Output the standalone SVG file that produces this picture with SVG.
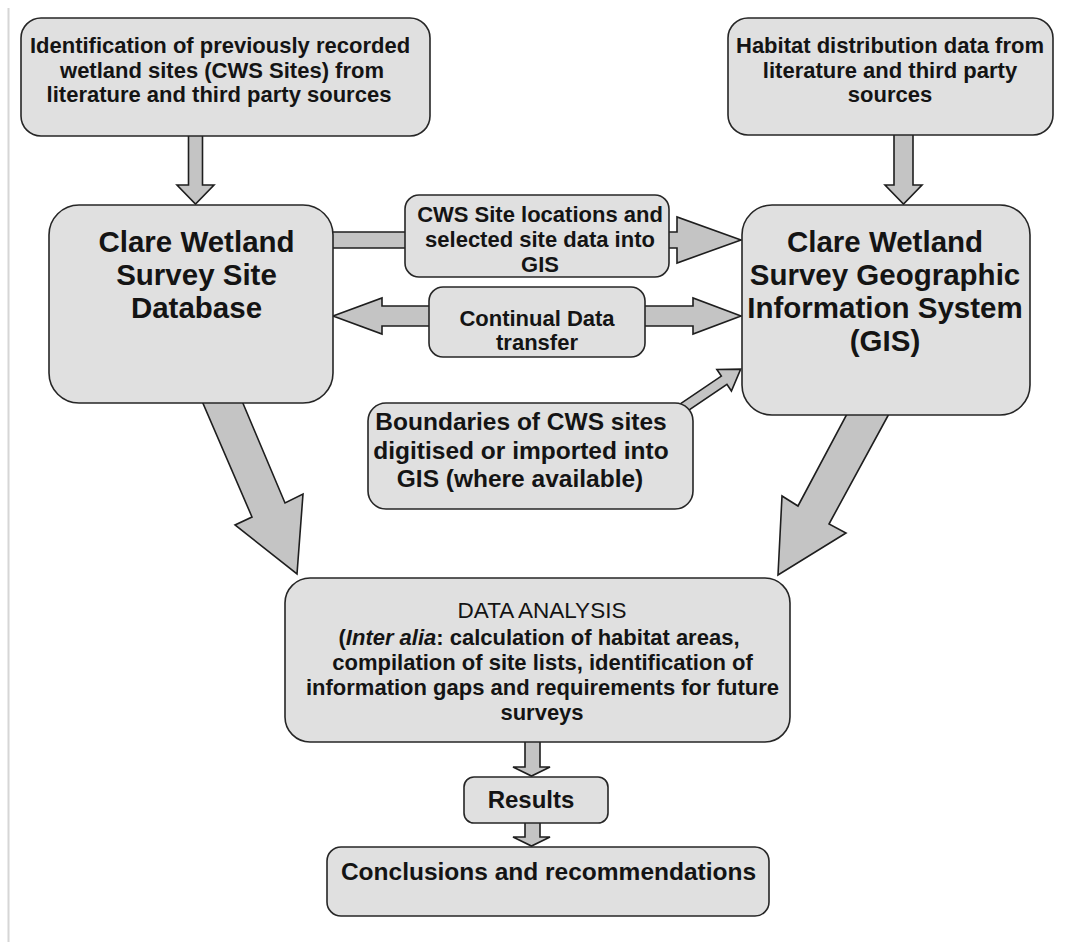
<svg xmlns="http://www.w3.org/2000/svg" width="1065" height="942" viewBox="0 0 1065 942">
<style>
.box{fill:#e0e0e0;stroke:#262626;stroke-width:1.6}
.arr{fill:#c4c4c4;stroke:#1e1e1e;stroke-width:1.6;stroke-linejoin:miter}
text{font-family:"Liberation Sans",Arial,sans-serif;fill:#141414;text-anchor:middle}
.b22{font-size:22px;font-weight:bold}
.b24{font-size:24.5px;font-weight:bold}
.big{font-size:29.5px;font-weight:bold}
.r22{font-size:22.5px;font-weight:normal}
</style>
<rect x="0" y="0" width="1065" height="942" fill="#ffffff"/>
<line x1="8.5" y1="8" x2="8.5" y2="942" stroke="#d6d6d6" stroke-width="2"/>
<g id="connectors">
<polygon class="arr" points="188.5,134 202.5,134 202.5,185 214,185 195.5,204 177,185 188.5,185"/>
<polygon class="arr" points="894,133 913,133 913,185 922,185 903.5,204 885,185 894,185"/>
<polygon class="arr" points="330,232 677,232 677,217 741,240 677,263 677,248 330,248"/>
<polygon class="arr" points="333,316 382,298 382,306 693,306 693,298 741,316 693,334 693,326 382,326 382,334"/>
<polygon class="arr" transform="translate(686,406) rotate(-34)" points="-8,-5 46,-5 46,-13 66,0 46,13 46,5 -8,5"/>
<polygon class="arr" points="202,401 242,401 285,503 303,494 297,574 235,525 252,517"/>
<polygon class="arr" points="848,412 890,412 829,524 846,533 778,575 782,496 798,506"/>
<polygon class="arr" points="525,741 540,741 540,767 550,767 531.5,776 513,767 525,767"/>
<polygon class="arr" points="525,822 540,822 540,837 550,837 531.5,846 513,837 525,837"/>
</g>
<g id="n-identification">
<rect class="box" x="21" y="18" width="409" height="118" rx="20"/>
<text class="b22" x="220" y="53">Identification of previously recorded</text>
<text class="b22" x="222" y="77.5">wetland sites (CWS Sites) from</text>
<text class="b22" x="219" y="102">literature and third party sources</text>
</g>
<g id="n-habitat">
<rect class="box" x="728" y="18" width="325" height="117" rx="20"/>
<text class="b22" x="890" y="53">Habitat distribution data from</text>
<text class="b22" x="890" y="78">literature and third party</text>
<text class="b22" x="890" y="102">sources</text>
</g>
<g id="n-database">
<rect class="box" x="49" y="205" width="284" height="198" rx="30"/>
<text class="big" x="196.5" y="252">Clare Wetland</text>
<text class="big" x="196.5" y="285">Survey Site</text>
<text class="big" x="196.5" y="318">Database</text>
</g>
<g id="n-gis">
<rect class="box" x="742" y="205" width="288" height="210" rx="30"/>
<text class="big" x="885" y="252">Clare Wetland</text>
<text class="big" x="885" y="285">Survey Geographic</text>
<text class="big" x="885" y="318">Information System</text>
<text class="big" x="885" y="351">(GIS)</text>
</g>
<g id="n-locations">
<rect class="box" x="405" y="195" width="264" height="82" rx="14"/>
<text class="b22" x="540" y="222">CWS Site locations and</text>
<text class="b22" x="540" y="247">selected site data into</text>
<text class="b22" x="540" y="272">GIS</text>
</g>
<g id="n-transfer">
<rect class="box" x="429" y="287" width="216" height="70" rx="14"/>
<text class="b22" x="537" y="326">Continual Data</text>
<text class="b22" x="537" y="350">transfer</text>
</g>
<g id="n-boundaries">
<rect class="box" x="368" y="403" width="325" height="106" rx="18"/>
<text class="b24" x="521" y="430">Boundaries of CWS sites</text>
<text class="b24" x="521" y="459">digitised or imported into</text>
<text class="b24" x="520" y="487">GIS (where available)</text>
</g>
<g id="n-analysis">
<rect class="box" x="285" y="578" width="505" height="164" rx="25"/>
<text class="r22" x="542" y="618">DATA ANALYSIS</text>
<text class="b22" x="539" y="645">(<tspan font-style="italic">Inter alia</tspan>: calculation of habitat areas,</text>
<text class="b22" x="542.5" y="670">compilation of site lists, identification of</text>
<text class="b22" x="542.5" y="695">information gaps and requirements for future</text>
<text class="b22" x="542" y="720">surveys</text>
</g>
<g id="n-results">
<rect class="box" x="464" y="777" width="144" height="46" rx="10"/>
<text class="b24" x="531" y="808" style="font-size:24px">Results</text>
</g>
<g id="n-conclusions">
<rect class="box" x="327" y="847" width="442" height="69" rx="14"/>
<text class="b24" x="548.5" y="880">Conclusions and recommendations</text>
</g>
</svg>
